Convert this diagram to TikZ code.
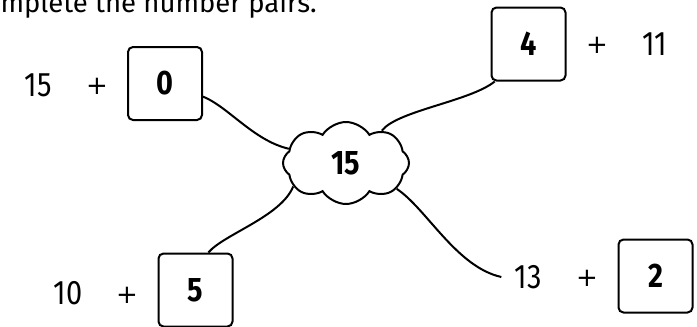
\documentclass[tikz,border=0pt]{standalone}
\usepackage{fontspec}
\setmainfont{Fira Sans}
\newfontfamily\numfont{Fira Sans}[FakeStretch=0.85]
\newfontfamily\opfont{DejaVu Sans}
\usetikzlibrary{shapes.symbols}
\tikzset{
  numbox/.style={draw,line width=2pt,rounded corners=5pt,minimum width=74pt,minimum height=73pt,
    font=\numfont\bfseries\fontsize{34}{34}\selectfont},
  numtxt/.style={font=\numfont\fontsize{34}{34}\selectfont,inner sep=0pt},
  optxt/.style={font=\opfont\fontsize{26}{26}\selectfont,inner sep=0pt},
  link/.style={line width=2pt},
}
\begin{document}
\begin{tikzpicture}[x=1pt,y=-1pt]
\useasboundingbox (0,0) rectangle (697,327);
\clip (0,0) rectangle (697,327);
\node[font=\fontsize{27.5}{27.5}\selectfont,anchor=base east,inner sep=0pt] (title) at (317,12) {Complete the number pairs.};
% centre
\node[cloud,cloud puffs=8,cloud puff arc=115,aspect=1.55,draw,line width=2pt,
  minimum width=126pt,minimum height=82pt,inner sep=0pt,
  font=\numfont\bfseries\fontsize{34}{34}\selectfont] (cl) at (346,163) {15};
% top left
\node[numtxt] (a1) at (38,85) {15};
\node[optxt] (p1) at (97,86) {+};
\node[numbox] (b0) at (165,83.5) {0};
% top right
\node[numbox] (b4) at (528.5,44) {4};
\node[optxt] (p2) at (597,45) {+};
\node[numtxt] (a2) at (655,44) {11};
% bottom left
\node[numtxt] (a3) at (68,293) {10};
\node[optxt] (p3) at (127,295) {+};
\node[numbox] (b5) at (195.5,290) {5};
% bottom right
\node[numtxt] (a4) at (528,277) {13};
\node[optxt] (p4) at (587,278) {+};
\node[numbox] (b2) at (655.5,276) {2};
% links
\draw[link] (b0.-19) .. controls +(25,10) and +(-35,-8) .. (cl.166);
\draw[link] (cl.42) .. controls +(15,-20) and +(-25,20) .. (b4.228);
\draw[link] (cl.204) .. controls +(-12,30) and +(15,-18) .. (b5.71);
\draw[link] (cl.-27) .. controls +(30,20) and +(-45,-10) .. ([xshift=-13pt]a4.west);
\end{tikzpicture}
\end{document}
